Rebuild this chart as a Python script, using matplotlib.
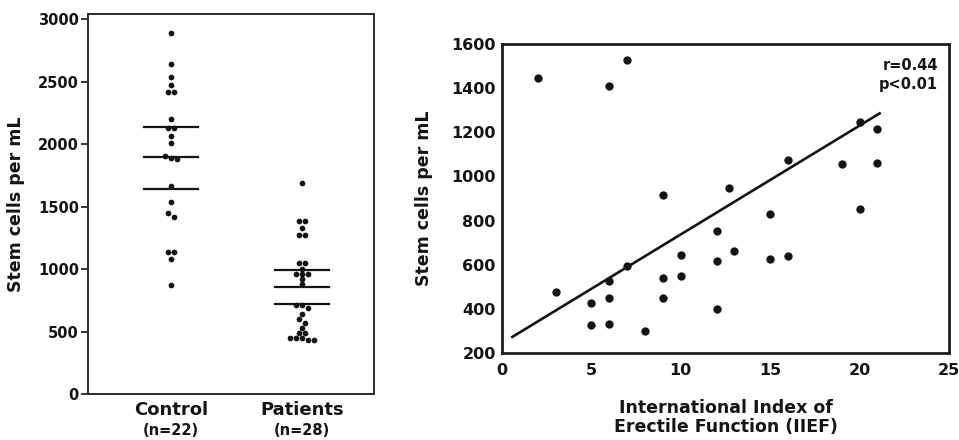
import numpy as np
import matplotlib.pyplot as plt

# left panel: stem cells per mL for each group
groups = ["Control", "Patients"]
group_n = ["(n=22)", "(n=28)"]
control = [2890, 2642, 2537, 2476, 2417, 2417, 2201, 2129, 2129, 2069, 2013,
           1905, 1888, 1880, 1670, 1541, 1453, 1421, 1140, 1140, 1079, 873]
patients = [1688, 1385, 1385, 1330, 1275, 1275, 1050, 1050, 1005, 965, 965,
            965, 920, 880, 710, 710, 690, 640, 600, 570, 530, 490, 490, 450,
            450, 450, 430, 430]
# horizontal bars (upper, mean, lower)
control_bars = [2140, 1900, 1640]
patients_bars = [990, 855, 720]

# right panel: IIEF score vs stem cells per mL
iief = [2, 7, 6, 9, 3, 5, 5, 6, 6, 6, 7, 8, 9, 9, 10, 10, 12.7, 12, 12, 12,
        13, 15, 15, 16, 16, 19, 20, 20, 21, 21]
cells = [1448, 1527, 1410, 917, 475, 425, 326, 448, 331, 528, 592, 300, 539,
         448, 642, 551, 949, 753, 616, 399, 662, 828, 624, 1075, 638, 1057,
         1246, 851, 1215, 1060]
fit_slope = 49.3
fit_intercept = 244.4
fit_x = [0.58, 21.12]
stats_text = "r=0.44\np<0.01"

ink = "#141414"


def swarm_offsets(vals, row_h, step):
    # group near-equal values into rows and centre each row (Prism style)
    vals = np.asarray(vals, dtype=float)
    order = np.argsort(vals)[::-1]
    rows = []
    for i in order:
        if rows and rows[-1][0] - vals[i] < row_h:
            rows[-1][1].append(i)
        else:
            rows.append([vals[i], [i]])
    offs = np.zeros(len(vals))
    for _, idx in rows:
        n = len(idx)
        for k, i in enumerate(idx):
            offs[i] = (k - (n - 1) / 2) * step
    return offs


fig = plt.figure(figsize=(9.59, 4.4), dpi=100)
plt.rcParams['font.family'] = ['DejaVu Sans']
plt.rcParams['font.weight'] = 'bold'

# ---- left panel ----
ax1 = fig.add_axes([88 / 959, 1 - 394 / 440, 286 / 959, 380 / 440])
for pos, (vals, bars) in enumerate([(control, control_bars), (patients, patients_bars)]):
    xo = swarm_offsets(vals, 40, 0.045)
    ax1.scatter(pos + xo, vals, s=17, color=ink, linewidths=0, zorder=3)
    for b in bars:
        ax1.plot([pos - 0.205, pos + 0.205], [b, b], color=ink, lw=1.6, zorder=2)

ax1.set_xlim(-0.634, 1.55)
ax1.set_ylim(0, 3044)
ax1.set_yticks(range(0, 3001, 500))
ax1.set_xticks([])
ax1.tick_params(axis='y', length=5, width=1.2, pad=1.5, labelsize=10.5,
                colors=ink)
for lab in ax1.get_yticklabels():
    lab.set_fontweight('bold')
for sp in ax1.spines.values():
    sp.set_linewidth(1.4)
    sp.set_color('#2a2a2a')
ax1.set_ylabel("Stem cells per mL", fontsize=12.5, fontweight='bold',
               color=ink, labelpad=9)
trans = ax1.get_xaxis_transform()
for pos, (g, n) in enumerate(zip(groups, group_n)):
    ax1.text(pos, -0.042, g, transform=trans, ha='center', va='center',
             fontsize=13, fontweight='bold', color=ink)
    ax1.text(pos, -0.095, n, transform=trans, ha='center', va='center',
             fontsize=10.5, fontweight='bold', color=ink)

# ---- right panel ----
ax2 = fig.add_axes([502 / 959, 1 - 353 / 440, 447 / 959, 309 / 440])
ax2.scatter(iief, cells, s=36, color=ink, linewidths=0, zorder=3)
fx = np.array(fit_x)
ax2.plot(fx, fit_intercept + fit_slope * fx, color=ink, lw=1.9, zorder=2)
ax2.set_xlim(0, 25)
ax2.set_ylim(200, 1600)
ax2.set_xticks(range(0, 26, 5))
ax2.set_yticks(range(200, 1601, 200))
ax2.tick_params(axis='x', length=0, pad=7, labelsize=11.5, colors=ink)
ax2.tick_params(axis='y', length=0, pad=4.5, labelsize=11.5, colors=ink)
for lab in ax2.get_xticklabels() + ax2.get_yticklabels():
    lab.set_fontweight('bold')
for sp in ax2.spines.values():
    sp.set_linewidth(2)
    sp.set_color('#1e1e1e')
ax2.set_ylabel("Stem cells per mL", fontsize=12.5, fontweight='bold',
               color=ink, labelpad=13)
ax2.set_xlabel("International Index of\nErectile Function (IIEF)",
               fontsize=12.5, fontweight='bold', color=ink, labelpad=15,
               linespacing=1.12)
ax2.text(0.975, 0.90, stats_text, transform=ax2.transAxes, ha='right',
         va='center', fontsize=10.5, fontweight='bold', color=ink,
         linespacing=1.35, multialignment='right')

fig.savefig("out.png", dpi=100)
